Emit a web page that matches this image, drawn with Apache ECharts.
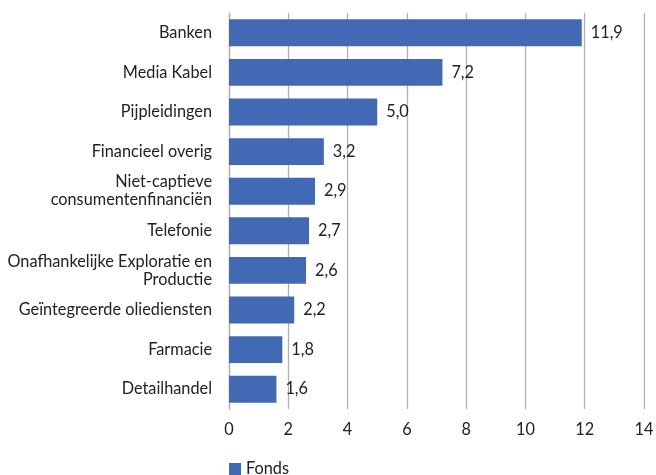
<!DOCTYPE html>
<html><head><meta charset="utf-8">
<script src="https://cdn.jsdelivr.net/npm/echarts@6/dist/echarts.min.js"></script>
<style>html,body{margin:0;padding:0;background:#fff}#c{width:656px;height:475px}</style>
</head><body><div id="c"></div>
<script>
const categories = ["Banken","Media Kabel","Pijpleidingen","Financieel overig","Niet-captieve\nconsumentenfinanciën","Telefonie","Onafhankelijke Exploratie en\nProductie","Geïntegreerde oliediensten","Farmacie","Detailhandel"];
const fondsValues = [11.9,7.2,5.0,3.2,2.9,2.7,2.6,2.2,1.8,1.6];
const xTicks = {min:0,max:14,interval:2};
const seriesName = "Fonds";

const font = "Lato, 'Liberation Sans', Arial, sans-serif";
const fs = 16.3;
const chart = echarts.init(document.getElementById('c'));
chart.setOption({
  animation:false,
  textStyle:{fontFamily:font},
  grid:{left:229,right:12,top:13,bottom:66,containLabel:false,outerBoundsMode:'none'},
  legend:{left:224,top:456,itemWidth:12,itemHeight:12,itemGap:8,icon:'rect',
    textStyle:{fontFamily:font,fontSize:fs,color:'#222'},data:[seriesName]},
  xAxis:{type:'value',min:xTicks.min,max:xTicks.max,interval:xTicks.interval,
    axisLine:{show:false},axisTick:{show:false},
    splitLine:{show:true,lineStyle:{color:'#b0b0b0',width:1.3}},
    axisLabel:{fontFamily:font,fontSize:fs,color:'#222',margin:13}},
  yAxis:{type:'category',inverse:true,data:categories,
    axisLine:{show:true,lineStyle:{color:'#b0b0b0',width:1.3}},axisTick:{show:false},
    axisLabel:{fontFamily:font,fontSize:fs,color:'#222',margin:17,lineHeight:18,align:'right'}},
  series:[{name:seriesName,type:'bar',data:fondsValues,barCategoryGap:'32%',
    itemStyle:{color:'#4169b4'},
    label:{show:true,position:'right',distance:9,fontFamily:font,fontSize:fs,color:'#222',
      formatter:p=>p.value.toFixed(1).replace('.',',')}}]
});
</script></body></html>
